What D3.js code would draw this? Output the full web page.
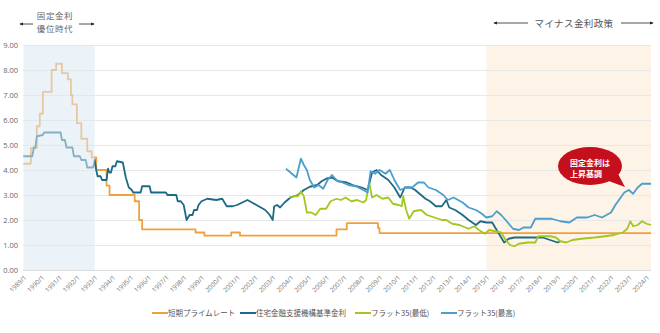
<!DOCTYPE html>
<html><head><meta charset="utf-8">
<script src="https://cdn.jsdelivr.net/npm/d3@7/dist/d3.min.js"></script>
<style>
html,body{margin:0;padding:0;background:#fff;}
svg{display:block;font-family:"Noto Sans CJK JP","Noto Sans",sans-serif;}
</style></head>
<body>
<svg id="c" width="660" height="333"></svg>
<script>
// ---- data ----
const seriesNames = ["短期プライムレート","住宅金融支援機構基準金利","フラット35(最低)","フラット35(最高)"];
const yTicks = [0,1,2,3,4,5,6,7,8,9];
const xTickYears = d3.range(1989, 2025);

// 短期プライムレート (change points, step)
const primeRate = [
 ["1989/1",4.25],["1989/6",4.875],["1989/10",5.75],["1989/12",6.25],["1990/2",7.125],
 ["1990/8",8.0],["1990/11",8.25],["1991/3",7.875],["1991/7",7.625],["1991/9",7.0],
 ["1991/10",6.625],["1992/1",5.875],["1992/4",5.25],["1992/8",4.75],["1992/11",4.5],
 ["1993/2",4.0],["1993/9",3.375],["1993/11",3.0],["1995/4",2.75],["1995/7",2.0],
 ["1995/9",1.625],["1998/9",1.5],["1999/3",1.375],["2000/9",1.5],["2001/3",1.375],
 ["2006/8",1.625],["2007/3",1.875],["2008/12",1.675],["2009/1",1.475],["2024/4",1.475]
];
// 住宅金融支援機構基準金利
const jhfRate = [
 ["1989/1",4.55],["1989/7",4.55],["1989/8",4.9],["1989/9",4.9],["1989/10",5.35],["1990/2",5.4],
 ["1990/3",5.5],["1991/2",5.5],["1991/3",5.2],["1991/5",5.2],["1991/6",4.9],["1991/10",4.9],
 ["1991/11",4.55],["1992/3",4.55],["1992/4",4.4],["1992/7",4.4],["1992/8",4.1],["1992/12",4.1],
 ["1993/1",4.4],["1993/2",4.0],["1993/3",3.75],["1993/5",3.75],["1993/6",3.6],["1993/9",3.6],
 ["1993/10",4.05],["1993/11",3.9],["1993/12",3.9],["1994/1",4.15],["1994/3",4.15],["1994/4",4.35],
 ["1994/8",4.3],["1994/10",3.7],["1994/12",3.3],["1995/2",3.2],["1995/3",3.1],["1995/8",3.1],
 ["1995/9",3.35],["1996/2",3.35],["1996/3",3.1],["1997/1",3.1],["1997/2",3.0],["1997/8",3.0],
 ["1997/9",2.75],["1997/11",2.75],["1998/1",2.6],["1998/3",2.0],["1998/5",2.2],["1998/7",2.2],
 ["1998/8",2.4],["1998/10",2.4],["1998/11",2.6],["1999/1",2.75],["1999/5",2.85],["1999/11",2.8],
 ["2000/3",2.85],["2000/6",2.55],["2000/10",2.55],["2001/1",2.6],["2001/8",2.8],["2002/2",2.6],
 ["2002/8",2.4],["2002/11",2.2],["2003/1",2.0],["2003/2",2.55],["2003/4",2.6],["2003/6",2.5],
 ["2003/9",2.7],["2003/11",2.8],["2004/1",2.9],["2004/6",3.0],["2004/10",3.2],["2005/2",3.33],
 ["2005/7",3.4],["2005/10",3.55],["2006/1",3.65],["2006/5",3.7],["2006/9",3.55],["2007/3",3.5],
 ["2007/7",3.4],["2008/1",3.3],["2008/5",3.2],["2008/8",3.9],["2008/11",4.0],["2009/2",3.8],
 ["2009/7",3.6],["2009/11",3.3],["2010/3",2.9],["2010/6",3.3],["2010/10",3.3],["2011/1",3.2],
 ["2011/5",3.0],["2011/8",2.85],["2011/11",2.75],["2012/3",2.55],["2012/7",2.55],["2012/10",2.8],
 ["2012/12",2.5],["2013/4",2.4],["2013/9",2.2],["2014/1",2.0],["2014/6",1.8],["2014/9",1.95],
 ["2015/1",1.9],["2015/5",1.9],["2015/9",1.5],["2015/11",1.3],["2016/1",1.1],["2016/4",1.25],
 ["2016/8",1.3],["2017/5",1.3],["2018/3",1.3],["2018/8",1.2],["2019/1",1.1],["2019/3",1.15]
];
// フラット35(最低)
const flatMin = [
 ["2003/12",2.9],["2004/3",2.95],["2004/6",2.95],["2004/8",3.15],["2004/10",2.95],["2004/12",2.3],
 ["2005/3",2.3],["2005/6",2.2],["2005/9",2.45],["2006/1",2.45],["2006/4",2.75],["2006/8",2.85],
 ["2006/11",2.8],["2007/2",2.9],["2007/6",2.75],["2007/10",2.8],["2008/2",2.7],["2008/4",2.8],
 ["2008/6",3.5],["2008/8",2.9],["2008/11",3.0],["2009/3",2.85],["2009/7",2.9],["2009/10",2.65],
 ["2010/2",2.6],["2010/4",2.55],["2010/5",2.95],["2010/7",2.4],["2010/9",2.05],["2010/12",2.35],
 ["2011/5",2.4],["2011/9",2.2],["2012/2",2.1],["2012/7",2.0],["2012/10",2.0],["2013/2",1.85],
 ["2013/7",1.8],["2014/1",1.65],["2014/5",1.75],["2014/8",1.6],["2014/12",1.45],["2015/3",1.6],
 ["2015/7",1.55],["2015/11",1.5],["2016/2",1.2],["2016/5",1.0],["2016/8",0.95],["2016/11",1.05],
 ["2017/5",1.1],["2017/10",1.1],["2017/12",1.35],["2018/8",1.35],["2018/12",1.3],["2019/3",1.15],
 ["2019/7",1.1],["2019/11",1.2],["2020/5",1.25],["2021/2",1.3],["2021/9",1.35],["2022/3",1.4],
 ["2022/9",1.5],["2022/12",1.65],["2023/2",1.95],["2023/4",1.75],["2023/7",1.8],["2023/10",1.95],
 ["2024/1",1.85],["2024/4",1.8]
];
// フラット35(最高)
const flatMax = [
 ["2003/10",4.05],["2004/1",3.9],["2004/3",3.8],["2004/5",3.7],["2004/8",4.45],["2004/10",4.2],
 ["2004/12",4.0],["2005/2",3.6],["2005/5",3.3],["2005/8",3.4],["2005/11",3.25],["2006/2",3.6],
 ["2006/5",3.8],["2006/8",3.6],["2006/12",3.5],["2007/4",3.4],["2007/9",3.35],["2008/2",3.2],
 ["2008/5",3.1],["2008/7",3.95],["2008/10",3.85],["2009/1",4.0],["2009/5",3.85],["2009/8",4.0],
 ["2009/11",3.6],["2010/3",3.2],["2010/7",3.3],["2010/11",3.3],["2011/3",3.5],["2011/7",3.5],
 ["2011/10",3.3],["2012/3",3.2],["2012/8",3.0],["2012/11",2.8],["2013/3",2.9],["2013/9",2.7],
 ["2014/1",2.5],["2014/6",2.4],["2014/10",2.25],["2015/1",2.1],["2015/5",2.15],["2015/8",2.35],
 ["2015/11",2.2],["2016/2",2.0],["2016/7",1.65],["2016/11",1.6],["2017/2",1.7],["2017/7",1.7],
 ["2017/10",2.05],["2018/9",2.05],["2019/3",1.95],["2019/9",1.9],["2020/2",2.1],["2020/9",2.1],
 ["2021/2",2.2],["2021/7",2.1],["2022/1",2.3],["2022/4",2.6],["2022/7",2.85],["2022/10",3.1],
 ["2023/1",3.2],["2023/4",3.05],["2023/7",3.3],["2023/10",3.45],["2024/1",3.45],["2024/4",3.45]
];
const seriesColors = ["#F0A13E","#1C6A85","#A2C720","#4A9FCC"];
const bands = [["1989/1","1993/1"],["2015/1","2024/4"]];

// ---- chart ----
const parseM = s => { const [yy, mm] = s.split("/").map(Number); return new Date(yy, mm - 1, 1); };
const svg = d3.select("#c");
const x = d3.scaleTime().domain([new Date(1989,0,1), new Date(2024,3,1)]).range([23.5, 651]);
const y = d3.scaleLinear().domain([0, 9]).range([270, 45]);

// orange band below lines
svg.append("rect").attr("x", x(parseM(bands[1][0]))).attr("y", y(9))
  .attr("width", x(parseM(bands[1][1])) - x(parseM(bands[1][0]))).attr("height", y(0) - y(9))
  .attr("fill", "#FDF3E6");

// grid + y labels
const yAx = svg.append("g").attr("transform", "translate(23,0)")
  .call(d3.axisLeft(y).tickValues(yTicks).tickSize(-(651 - 23)).tickPadding(5).tickFormat(d3.format(".2f")));
yAx.select(".domain").remove();
yAx.selectAll("line").attr("stroke", "#e8e8e8").attr("stroke-width", 1);
yAx.selectAll("text").attr("fill", "#666").style("font-size", "7.5px").style("font-family", "'Open Sans','Noto Sans',sans-serif");
yAx.selectAll(".tick").filter(d => d === 0).select("line").attr("stroke", "#dcdcdc");

// lines
const line = d3.line().x(d => x(parseM(d[0]))).y(d => y(d[1]));
const all = [primeRate, jhfRate, flatMin, flatMax];
all.forEach((data, i) => {
  svg.append("path").datum(data)
    .attr("fill", "none").attr("stroke", seriesColors[i]).attr("stroke-width", 1.8)
    .attr("stroke-linejoin", "round")
    .attr("d", line.curve(i === 0 ? d3.curveStepAfter : d3.curveLinear)(data));
});

// blue band over lines (fades them)
svg.append("rect").attr("x", x(parseM(bands[0][0]))).attr("y", y(9))
  .attr("width", x(parseM(bands[0][1])) - x(parseM(bands[0][0]))).attr("height", y(0) - y(9))
  .attr("fill", "#dde9f2").attr("opacity", 0.55);

// x axis labels
const xAx = svg.append("g").attr("transform", "translate(0,270)")
  .call(d3.axisBottom(x).tickValues(xTickYears.map(v => new Date(v, 0, 1))).tickSize(0)
    .tickFormat(d => d.getFullYear() + "/1"));
xAx.select(".domain").remove();
xAx.selectAll("text")
  .attr("fill", "#777").style("font-size", "6.5px").style("font-family", "'Open Sans','Noto Sans',sans-serif")
  .attr("text-anchor", "end").attr("y", 0).attr("dy", 0)
  .attr("transform", "translate(3,8) rotate(-45)");

// annotations top
const defs = svg.append("defs");
defs.append("marker").attr("id", "ah").attr("viewBox", "0 0 6 6").attr("refX", 5).attr("refY", 3)
  .attr("markerWidth", 5).attr("markerHeight", 5).attr("orient", "auto")
  .append("path").attr("d", "M0,0.5L6,3L0,5.5Z").attr("fill", "#222");
function arrow(x1, x2, yy) {
  svg.append("line").attr("x1", x1).attr("x2", x2).attr("y1", yy).attr("y2", yy)
    .attr("stroke", "#222").attr("stroke-width", 0.8).attr("marker-end", "url(#ah)");
}
arrow(33, 20, 24); arrow(79, 94, 24);
svg.append("text").attr("x", 55).attr("y", 19).attr("text-anchor", "middle").attr("fill", "#666")
  .style("font-size", "8.5px").style("letter-spacing", "0.6px").text("固定金利");
svg.append("text").attr("x", 55).attr("y", 32).attr("text-anchor", "middle").attr("fill", "#666")
  .style("font-size", "8.5px").style("letter-spacing", "0.6px").text("優位時代");
arrow(528, 494, 23); arrow(621, 653, 23);
svg.append("text").attr("x", 574).attr("y", 26.5).attr("text-anchor", "middle").attr("fill", "#555")
  .style("font-size", "9.5px").style("letter-spacing", "0.4px").text("マイナス金利政策");

// speech bubble
svg.append("path").attr("d", "M606,180 L617,172 L625,187 Z").attr("fill", "#C40F1C");
svg.append("ellipse").attr("cx", 590).attr("cy", 166).attr("rx", 32).attr("ry", 19).attr("fill", "#C40F1C");
svg.append("text").attr("x", 570).attr("y", 166).attr("fill", "#fff").attr("font-weight", "bold")
  .style("font-size", "8px").text("固定金利は");
svg.append("text").attr("x", 570).attr("y", 176.5).attr("fill", "#fff").attr("font-weight", "bold")
  .style("font-size", "8px").text("上昇基調");

// legend
const legX = [152, 240, 355, 441];
const leg = svg.append("g").selectAll("g").data(seriesNames).join("g")
  .attr("transform", (d, i) => `translate(${legX[i]},313)`);
leg.append("line").attr("x1", 0).attr("x2", 16).attr("y1", 0).attr("y2", 0)
  .attr("stroke", (d, i) => seriesColors[i]).attr("stroke-width", 2);
leg.append("text").attr("x", 16).attr("y", 3).attr("fill", "#555").style("font-size", "7.5px").text(d => d);
</script>
</body></html>
